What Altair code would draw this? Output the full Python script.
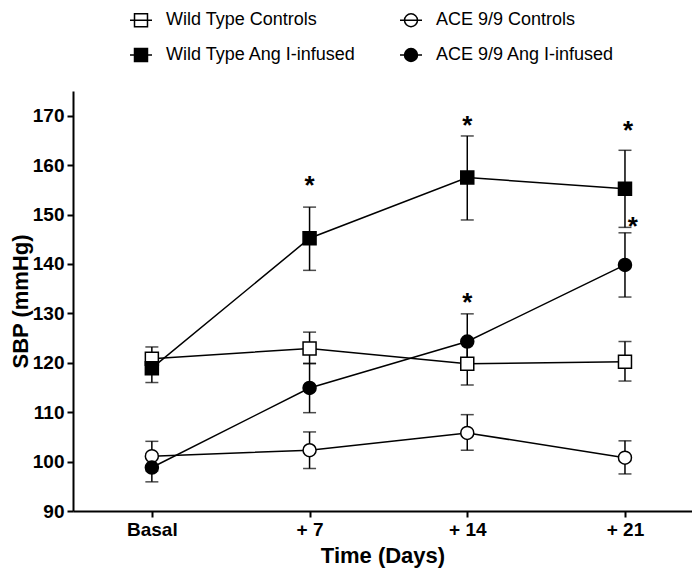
import json
import altair as alt
import pandas as pd

series = ["Wild Type Controls", "ACE 9/9 Controls", "Wild Type Ang I-infused", "ACE 9/9 Ang I-infused"]
time_idx = [0, 1, 2, 3]
time_labels = ["Basal", "+ 7", "+ 14", "+ 21"]

wt_ctrl = [120.8, 122.9, 119.8, 120.2]
wt_ctrl_lo = [118.4, 119.8, 115.5, 116.3]
wt_ctrl_hi = [123.2, 126.2, 124.1, 124.3]

ace_ctrl = [101.1, 102.3, 105.8, 100.8]
ace_ctrl_lo = [98.1, 98.6, 102.3, 97.5]
ace_ctrl_hi = [104.1, 106.0, 109.5, 104.2]

wt_ang = [118.9, 145.2, 157.5, 155.2]
wt_ang_lo = [116.0, 138.7, 148.9, 147.4]
wt_ang_hi = [121.8, 151.5, 165.9, 163.0]

ace_ang = [98.8, 114.9, 124.3, 139.8]
ace_ang_lo = [95.9, 109.9, 118.6, 133.3]
ace_ang_hi = [101.6, 119.9, 129.9, 146.3]

star_t = [1, 2, 3.02, 3.05, 2]
star_v = [156.4, 168.5, 167.5, 148.1, 132.7]

means = [wt_ctrl, ace_ctrl, wt_ang, ace_ang]
lows = [wt_ctrl_lo, ace_ctrl_lo, wt_ang_lo, ace_ang_lo]
highs = [wt_ctrl_hi, ace_ctrl_hi, wt_ang_hi, ace_ang_hi]

rows = []
for s, m, lo, hi in zip(series, means, lows, highs):
    for t, a, b, c in zip(time_idx, m, lo, hi):
        rows.append({"series": s, "t": t, "sbp": a, "lo": b, "hi": c})
df = pd.DataFrame(rows)
stars = pd.DataFrame({"t": star_t, "v": star_v})

FONT = "Liberation Sans"
fills = ["white", "white", "black", "black"]
strokes = ["black", "black", "black", "black"]
r = 0.59
sq_path = f"M-1,0H1M-{r},-{r}H{r}V{r}H-{r}Z"
ci_path = f"M-1,0H1M-{r},0A{r},{r} 0 1,0 {r},0A{r},{r} 0 1,0 -{r},0Z"
legend_shapes = [sq_path, ci_path, sq_path, ci_path]

label_expr = json.dumps(time_labels) + "[datum.value]"
x_scale = alt.Scale(domain=[-0.5, 3.425], nice=False, zero=False)
x_enc = alt.X("t:Q", scale=x_scale,
              axis=alt.Axis(values=time_idx, labelExpr=label_expr, title="Time (Days)", grid=False))
y_scale = alt.Scale(domain=[90, 175], nice=False, zero=False)
y_axis = alt.Axis(values=list(range(90, 171, 10)), title="SBP (mmHg)", grid=False)

base = alt.Chart(df)

lines = base.mark_line(color="black", strokeWidth=1.5).encode(
    x=x_enc,
    y=alt.Y("sbp:Q", scale=y_scale, axis=y_axis),
    detail="series:N",
)

errs = base.mark_errorbar(
    ticks={"size": 13, "thickness": 1.5, "color": "black"},
    rule={"strokeWidth": 1.5, "color": "black"},
    color="black",
).encode(
    x=x_enc,
    y=alt.Y("lo:Q", scale=y_scale, title="SBP (mmHg)"),
    y2="hi:Q",
    detail="series:N",
)

is_wt = "indexof(datum.series, 'Wild') >= 0"
is_ctrl = "indexof(datum.series, 'Controls') >= 0"
markers = base.mark_point(filled=True, stroke="black", strokeWidth=1.5, size=169, opacity=1).encode(
    x=x_enc,
    y=alt.Y("sbp:Q", scale=y_scale, title="SBP (mmHg)"),
    shape=alt.condition(is_wt, alt.value("square"), alt.value("circle")),
    fill=alt.condition(is_ctrl, alt.value("white"), alt.value("black")),
)

leg = alt.Legend(
    title=None, orient="none", legendX=56, legendY=-83, columns=2, columnPadding=40,
    direction="horizontal",
    rowPadding=13, symbolSize=484, symbolStrokeWidth=1.5, symbolStrokeColor="black",
    symbolOpacity=1,
    labelFont=FONT, labelFontSize=18, labelColor="black", labelLimit=400,
    labelOffset=13, padding=0,
)
legend_layer = base.transform_filter("datum.t < -100").mark_point(
    filled=True, strokeWidth=1.5, opacity=1
).encode(
    x=x_enc,
    y=alt.Y("sbp:Q", scale=y_scale, title="SBP (mmHg)"),
    shape=alt.Shape("series:N", scale=alt.Scale(domain=series, range=legend_shapes), legend=leg),
    fill=alt.Fill("series:N", scale=alt.Scale(domain=series, range=fills), legend=leg),
    stroke=alt.Stroke("series:N", scale=alt.Scale(domain=series, range=strokes), legend=leg),
)

star_layer = alt.Chart(stars).mark_text(
    text="*", font=FONT, fontSize=26, fontWeight="bold", color="black", baseline="middle", dy=3
).encode(
    x=alt.X("t:Q", scale=x_scale),
    y=alt.Y("v:Q", scale=y_scale),
)

chart = alt.layer(lines, errs, markers, legend_layer, star_layer).properties(
    width=619, height=420,
    autosize=alt.AutoSizeParams(type="none"),
    padding={"left": 65, "top": 83, "right": 0, "bottom": 60},
).configure_view(stroke=None).configure_axis(
    domainColor="black", domainWidth=2, tickColor="black", tickWidth=2, tickSize=6,
    labelFont=FONT, labelFontSize=19, labelFontWeight="bold", labelColor="black",
    titleFont=FONT, titleFontSize=22, titleFontWeight="bold", titleColor="black",
    labelPadding=3,
).configure_axisY(titlePadding=0).configure_axisX(titlePadding=6)

chart.save("out.html", embed_options={"renderer": "svg", "actions": False})
